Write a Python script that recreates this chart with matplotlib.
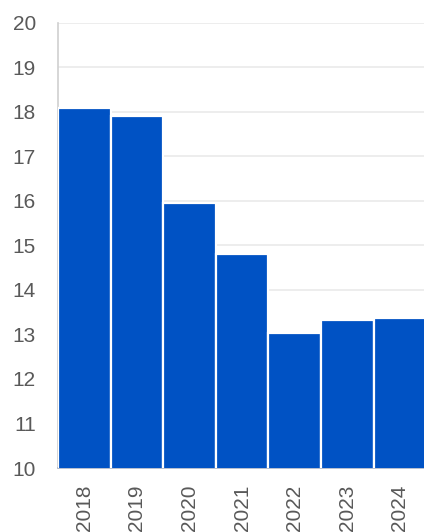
import matplotlib.pyplot as plt

years = ["2018", "2019", "2020", "2021", "2022", "2023", "2024"]
values = [18.1, 17.9, 15.95, 14.8, 13.03, 13.33, 13.36]
yticks = list(range(10, 21))

fig = plt.figure(figsize=(4.24, 5.32), dpi=100)
ax = fig.add_axes([0.137, 0.1203, 0.868, 0.8365])

x = list(range(len(years)))
ax.bar(x, values, width=1.0, color="#0052C4", edgecolor="white", linewidth=1.6, zorder=3)

ax.set_ylim(10, 20)
ax.set_xlim(-0.5, len(years) - 0.5)
ax.set_yticks(yticks)
ax.set_xticks(x)
ax.set_xticklabels(years, rotation=90)
ax.grid(axis="y", color="#EAEAEA", linewidth=1.2, zorder=0)

for side in ["top", "right"]:
    ax.spines[side].set_visible(False)
ax.spines["left"].set_color("#CFCFCF")
ax.spines["left"].set_linewidth(1.2)
ax.spines["bottom"].set_color("#A9B4C8")
ax.spines["bottom"].set_linewidth(1.2)

ax.tick_params(axis="both", length=0, labelsize=15, labelcolor="#595959")
ax.tick_params(axis="y", pad=16)
ax.tick_params(axis="x", pad=12)
for lbl in ax.get_xticklabels() + ax.get_yticklabels():
    lbl.set_fontfamily("Liberation Sans")

fig.savefig("out.png", dpi=100)
